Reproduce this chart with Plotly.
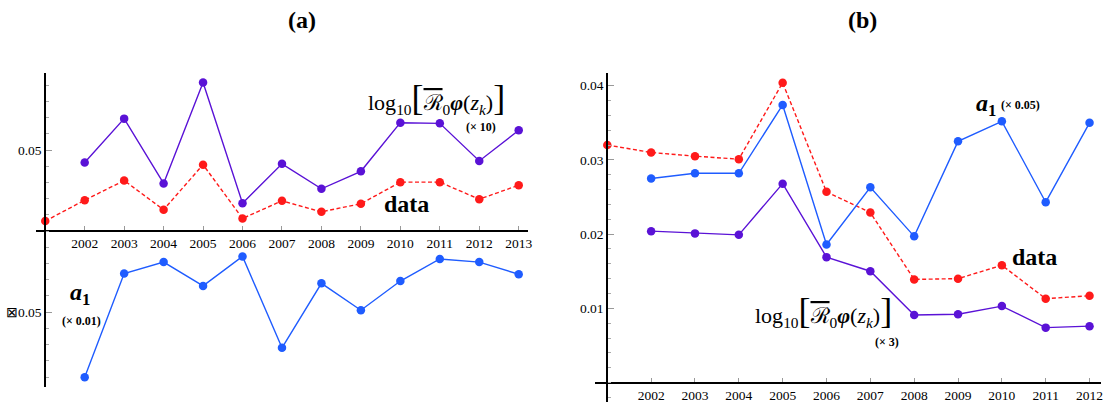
import plotly.graph_objects as go

W, H = 1105, 403

# ---- panel (a) series ----
years_a = list(range(2001, 2014))
data_a = [0.0062, 0.0191, 0.0312, 0.0132, 0.0410, 0.0078, 0.0187,
          0.0119, 0.0169, 0.0302, 0.0302, 0.0197, 0.0283]
years_a2 = list(range(2002, 2014))
logr_a = [0.0423, 0.0694, 0.0294, 0.0917, 0.0172, 0.0415, 0.0261,
          0.0369, 0.0669, 0.0665, 0.0433, 0.0622]
a1_a = [-0.0902, -0.0262, -0.0191, -0.0338, -0.0156, -0.0720, -0.0322,
        -0.0488, -0.0308, -0.0172, -0.0191, -0.0266]

# ---- panel (b) series ----
years_b = list(range(2001, 2013))
data_b = [0.0320, 0.0310, 0.0305, 0.0301, 0.0404, 0.0257, 0.0229,
          0.0139, 0.0140, 0.0158, 0.0113, 0.0117]
years_b2 = list(range(2002, 2013))
a1_b = [0.0275, 0.0282, 0.0282, 0.0374, 0.0186, 0.0263, 0.0197,
        0.0325, 0.0352, 0.0243, 0.0350]
logr_b = [0.0204, 0.0201, 0.0199, 0.0268, 0.0169, 0.0150, 0.0091,
          0.0092, 0.0103, 0.0074, 0.0076]

# ---- tick labels ----
xticks_a = list(range(2002, 2014))
xticks_b = list(range(2002, 2013))
yticks_a = [-0.05, 0.05]
yticklabels_a = ["\u22a00.05", "0.05"]
yticks_b = [0.01, 0.02, 0.03, 0.04]
yticklabels_b = ["0.01", "0.02", "0.03", "0.04"]

PURPLE = "#5a12d6"
BLUE = "#1f5cff"
RED = "#ff1a1a"
SERIF = "Liberation Serif, Times New Roman, serif"


def px(x):
    return x / W


def py(y):
    return 1 - y / H


def series(x, y, color, xa, ya, dash="solid"):
    return go.Scatter(
        x=x, y=y, xaxis=xa, yaxis=ya, mode="lines+markers",
        line=dict(color=color, width=1.4, dash=dash),
        marker=dict(color=color, size=8.5),
        showlegend=False, hoverinfo="skip", cliponaxis=False,
    )


fig = go.Figure()
fig.add_trace(series(years_a, data_a, RED, "x", "y", dash="4px,2.5px"))
fig.add_trace(series(years_a2, logr_a, PURPLE, "x", "y"))
fig.add_trace(series(years_a2, a1_a, BLUE, "x", "y"))
fig.add_trace(series(years_b, data_b, RED, "x2", "y2", dash="4px,2.5px"))
fig.add_trace(series(years_b2, a1_b, BLUE, "x2", "y2"))
fig.add_trace(series(years_b2, logr_b, PURPLE, "x2", "y2"))

tickfont = dict(family=SERIF, size=13.5, color="black")
common_x = dict(showline=True, linecolor="black", linewidth=2, ticks="inside",
                ticklen=4, tickcolor="#999999", showgrid=False, zeroline=False,
                tickfont=tickfont, anchor="free", fixedrange=True)
common_y = dict(showline=True, linecolor="black", linewidth=2, ticks="inside",
                ticklen=6, tickcolor="#999999", showgrid=False, zeroline=False,
                tickfont=tickfont, anchor="free", fixedrange=True,
                minor=dict(ticks="inside", ticklen=3, tickcolor="#aaaaaa",
                           showgrid=False))

# panel (a): 2001 at x=45.4 px, 39.6 px per year; y=0 at 231.7 px, 1625 px per unit
xa_range = [2001 + (36 - 45.4) / 39.6, 2001 + (530 - 45.4) / 39.6]
ya_range = [(231.7 - 388) / 1625, (231.7 - 73) / 1625]
# panel (b): 2001 at x=609.5 px, 44 px per year; y=0 at 383.5 px, 7440 px per unit
xb_range = [2001 + (597 - 609.5) / 44, 2001 + (1105 - 609.5) / 44]
yb_range = [(383.5 - 403) / 7440, (383.5 - 73) / 7440]

fig.update_layout(
    width=W, height=H, margin=dict(l=0, r=0, t=0, b=0),
    paper_bgcolor="white", plot_bgcolor="white",
    font=dict(family=SERIF, color="black"),
    xaxis=dict(common_x, domain=[px(36), px(530)], range=xa_range,
               position=py(231.7), tickvals=xticks_a,
               ticktext=[str(v) for v in xticks_a]),
    yaxis=dict(common_y, domain=[py(388), py(73)], range=ya_range,
               position=px(45.4), tickvals=yticks_a, ticktext=yticklabels_a,
               minor_tick0=0, minor_dtick=0.01),
    xaxis2=dict(common_x, domain=[px(597), 1.0], range=xb_range,
                position=py(383.5), tickvals=xticks_b,
                ticktext=[str(v) for v in xticks_b]),
    yaxis2=dict(common_y, domain=[0.0, py(73)], range=yb_range,
                position=px(609.5), tickvals=yticks_b, ticktext=yticklabels_b,
                minor_tick0=0, minor_dtick=0.002),
)

LOGR = ("log<sub>10</sub>"
        "<span style='font-size:36px'>[</span>"
        "<span style='text-decoration:overline'>\u211b</span>"
        "<sub>0</sub><b><i>\u03c6</i></b>(<i>z</i><sub><i>k</i></sub>)"
        "<span style='font-size:36px'>]</span>")


def label(text, x, y, size, bold=False):
    if bold:
        text = "<b>" + text + "</b>"
    fig.add_annotation(text=text, x=px(x), y=py(y), xref="paper", yref="paper",
                       showarrow=False, xanchor="center", yanchor="middle",
                       font=dict(family=SERIF, size=size, color="black"))


label("(a)", 303.5, 20, 24, bold=True)
label("(b)", 865.5, 20, 24, bold=True)

label(LOGR, 438, 98, 22)
label("(\u00d7 10)", 483, 127, 12, bold=True)
label("data", 407.5, 205, 24, bold=True)
label("<i>a</i><sub>1</sub>", 80, 295, 24, bold=True)
label("(\u00d7 0.01)", 81.7, 322, 12, bold=True)

label("<i>a</i><sub>1</sub>", 990, 105, 24, bold=True)
label("(\u00d7 0.05)", 1024.5, 105, 12, bold=True)
label("data", 1038.5, 258, 24, bold=True)
label(LOGR, 826, 311.7, 22)
label("(\u00d7 3)", 890, 343, 12, bold=True)

fig.write_html("out.html")
